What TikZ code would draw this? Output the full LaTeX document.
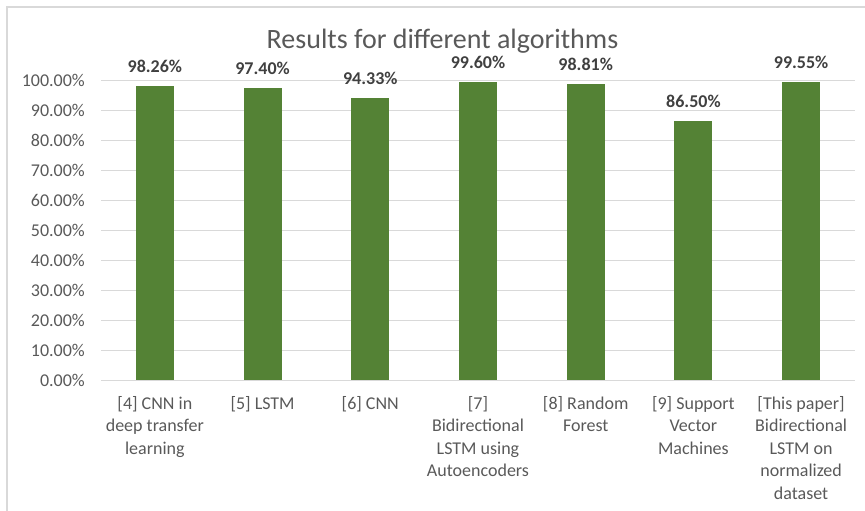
\documentclass[tikz,border=0pt]{standalone}
\usepackage{fontspec}
\setmainfont{Carlito}
\definecolor{bargreen}{HTML}{548235}
\definecolor{gridgray}{HTML}{D9D9D9}
\definecolor{labelgray}{HTML}{595959}
\definecolor{valuegray}{HTML}{404040}
\tikzset{
  gridline/.style={draw=gridgray, line width=1pt},
  chartframe/.style={draw=gridgray, line width=1.3pt},
  barbox/.style={fill=bargreen},
  axislabel/.style={text=labelgray, font=\fontsize{18}{22.5}\selectfont, inner sep=0pt, anchor=east},
  catlabel/.style={text=labelgray, font=\fontsize{18}{22.5}\selectfont, inner sep=0pt, align=center, anchor=north},
  valuelabel/.style={text=valuegray, font=\fontsize{18}{22.5}\selectfont\bfseries, inner sep=0pt, anchor=base},
  charttitle/.style={text=labelgray, font=\fontsize{28}{34}\selectfont, inner sep=0pt, anchor=base}
}
\begin{document}
\begin{tikzpicture}[x=1pt, y=-1pt]
  \useasboundingbox (0,0) rectangle (865,511);
  \clip (0,0) rectangle (865,511);
  % outer chart frame (runs past the right and bottom edges)
  \draw[chartframe] (7,7) rectangle (885,530);
  % title
  \node[charttitle] (title) at (442.5,49) {Results for different algorithms};
  % horizontal grid and value axis labels
  \foreach \k/\t in {0/0.00,1/10.00,2/20.00,3/30.00,4/40.00,5/50.00,6/60.00,7/70.00,8/80.00,9/90.00,10/100.00} {
    \draw[gridline] (101,{380-29.93*\k}) -- (855,{380-29.93*\k});
    \node[axislabel] (ax\k) at (85,{380-29.93*\k}) {\t\%};
  }
  % bars with their value labels
  \foreach \i/\v in {1/98.26,2/97.40,3/94.33,4/99.60,5/98.81,6/86.50,7/99.55} {
    \fill[barbox] ({101+107.71*(\i-0.5)-19},380) rectangle ({101+107.71*(\i-0.5)+19},{380-2.993*\v});
    \node[valuelabel] (val\i) at ({101+107.71*(\i-0.5)},{380-2.993*\v-13.5}) {\v\%};
  }
  % category labels
  \node[catlabel] (cat1) at ({101+107.71*0.5},396) {[4] CNN in\\deep transfer\\learning};
  \node[catlabel] (cat2) at ({101+107.71*1.5},396) {[5] LSTM};
  \node[catlabel] (cat3) at ({101+107.71*2.5},396) {[6] CNN};
  \node[catlabel] (cat4) at ({101+107.71*3.5},396) {[7]\\Bidirectional\\LSTM using\\Autoencoders};
  \node[catlabel] (cat5) at ({101+107.71*4.5},396) {[8] Random\\Forest};
  \node[catlabel] (cat6) at ({101+107.71*5.5},396) {[9] Support\\Vector\\Machines};
  \node[catlabel] (cat7) at ({101+107.71*6.5},396) {[This paper]\\Bidirectional\\LSTM on\\normalized\\dataset};
\end{tikzpicture}
\end{document}
